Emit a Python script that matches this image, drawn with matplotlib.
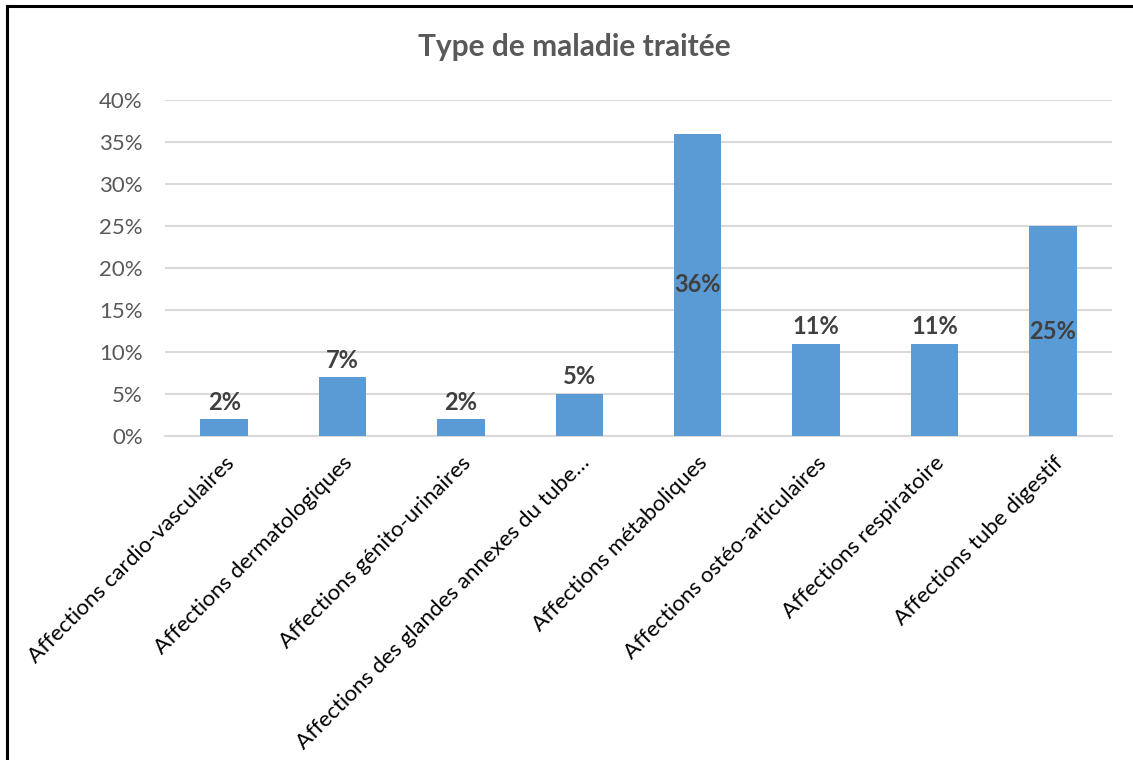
import matplotlib.pyplot as plt
import numpy as np
from matplotlib.lines import Line2D
from matplotlib.ticker import FuncFormatter, MultipleLocator

plt.rcParams['font.family'] = ['Lato', 'DejaVu Sans']

categories = ['Affections cardio-vasculaires', 'Affections dermatologiques',
              'Affections génito-urinaires', 'Affections des glandes annexes du tube…',
              'Affections métaboliques', 'Affections ostéo-articulaires',
              'Affections respiratoire', 'Affections tube digestif']
values = [2, 7, 2, 5, 36, 11, 11, 25]

fig = plt.figure(figsize=(11.33, 7.6), dpi=100)
ax = fig.add_axes([0.1456, 0.4263, 0.8359, 0.4421])

x = np.arange(len(categories))
bars = ax.bar(x, values, width=0.4, color='#5B9BD5', zorder=3)

ax.set_xlim(-0.5, len(categories) - 0.5)
ax.set_ylim(0, 40)
ax.yaxis.set_major_locator(MultipleLocator(5))
ax.yaxis.set_major_formatter(FuncFormatter(lambda v, p: f'{v:.0f}%'))
ax.grid(axis='y', color='#D9D9D9', linewidth=1.5, zorder=0)
for s in ['top', 'right', 'left']:
    ax.spines[s].set_visible(False)
ax.spines['bottom'].set_color('#D9D9D9')
ax.spines['bottom'].set_linewidth(1.5)
ax.tick_params(axis='both', length=0)
ax.tick_params(axis='y', labelsize=16, labelcolor='#595959', pad=16)
ax.set_xticks(x)
ax.set_xticklabels(categories, rotation=45, ha='right', rotation_mode='anchor',
                   fontsize=16, color='#000000')
ax.tick_params(axis='x', pad=12)

for xi, v in zip(x, values):
    if v > 20:
        ax.text(xi, v / 2, f'{v}%', ha='center', va='center', fontsize=17,
                fontweight='bold', color='#404040', zorder=4)
    else:
        ax.annotate(f'{v}%', (xi, v), xytext=(0, 4), textcoords='offset points',
                    ha='center', va='bottom', fontsize=17, fontweight='bold',
                    color='#404040', zorder=4)

fig.text(0.507, 0.938, 'Type de maladie traitée', ha='center', va='center',
         fontsize=21.5, fontweight='bold', color='#595959')

# outer frame (only top and left edges visible)
fig.add_artist(Line2D([7 / 1133, 7 / 1133], [0, 1 - 6 / 760], color='black', linewidth=2.2,
                      transform=fig.transFigure))
fig.add_artist(Line2D([7 / 1133, 1], [1 - 6 / 760, 1 - 6 / 760], color='black', linewidth=2.2,
                      transform=fig.transFigure))

fig.savefig('out.png', dpi=100, facecolor='white')
